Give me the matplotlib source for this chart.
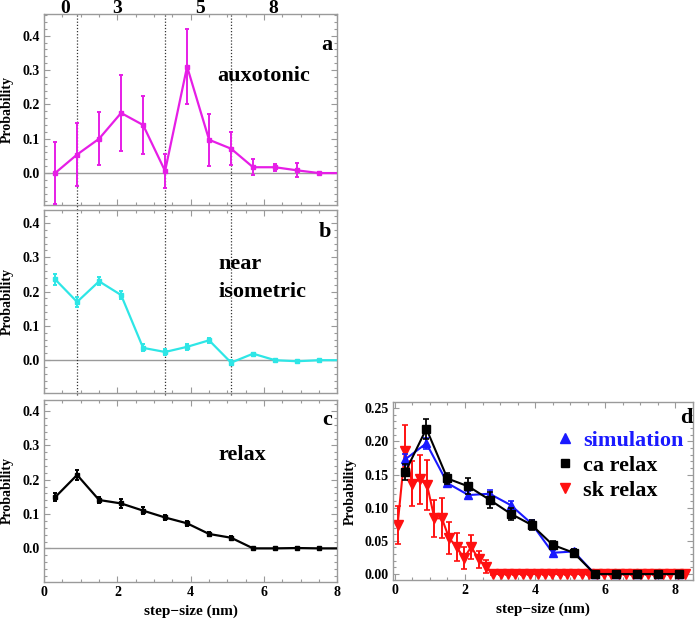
import matplotlib
matplotlib.use('Agg')
import matplotlib.pyplot as plt
from matplotlib.lines import Line2D
from matplotlib.ticker import MultipleLocator, FormatStrFormatter
import matplotlib.transforms as mtransforms

plt.rcParams['font.family'] = ['Liberation Serif', 'DejaVu Serif']
plt.rcParams['font.weight'] = 'bold'
plt.rcParams['axes.labelweight'] = 'bold'

# paneles a, b, c: centros de paso (nm)
paso = [0.3, 0.9, 1.5, 2.1, 2.7, 3.3, 3.9, 4.5, 5.1, 5.7, 6.3, 6.9, 7.5, 8.1]

prob_aux = [0.0, 0.054, 0.100, 0.175, 0.140, 0.006, 0.310, 0.097, 0.071, 0.017, 0.017, 0.008, 0.0, 0.0]
err_aux = [0.091, 0.091, 0.077, 0.111, 0.085, 0.050, 0.109, 0.076, 0.048, 0.023, 0.010, 0.020, 0.003, 0.0]

prob_iso = [0.236, 0.170, 0.230, 0.190, 0.036, 0.024, 0.039, 0.058, -0.007, 0.019, 0.0, -0.003, 0.0, 0.0]
err_iso = [0.016, 0.015, 0.012, 0.012, 0.010, 0.008, 0.008, 0.007, 0.008, 0.003, 0.002, 0.002, 0.002, 0.0]

prob_rel = [0.149, 0.214, 0.141, 0.131, 0.110, 0.090, 0.073, 0.042, 0.031, 0.0, 0.0, 0.001, 0.0, 0.0]
err_rel = [0.012, 0.015, 0.010, 0.012, 0.010, 0.008, 0.008, 0.006, 0.006, 0.002, 0.002, 0.002, 0.002, 0.0]

# panel d
prob_sim = [0.173, 0.197, 0.137, 0.119, 0.121, 0.104, 0.076, 0.032, 0.034, 0.0, 0.0, 0.0, 0.0, 0.0]
err_sim = [0.008, 0.008, 0.006, 0.006, 0.006, 0.006, 0.005, 0.004, 0.004, 0.001, 0.001, 0.001, 0.001, 0.001]
prob_ca = [0.154, 0.219, 0.144, 0.132, 0.112, 0.091, 0.074, 0.044, 0.032, 0.0, 0.0, 0.0, 0.0, 0.0]
err_ca = [0.012, 0.015, 0.009, 0.012, 0.012, 0.009, 0.008, 0.006, 0.005, 0.001, 0.001, 0.003, 0.001, 0.001]

paso_sk = [0.08, 0.29, 0.50, 0.71, 0.92, 1.13, 1.34, 1.55, 1.76, 1.97,
           2.18, 2.39, 2.60, 2.81, 3.02, 3.23, 3.44, 3.65, 3.86, 4.07,
           4.28, 4.49, 4.70, 4.91, 5.12, 5.33, 5.54, 5.75, 5.96, 6.17,
           6.38, 6.59, 6.80, 7.01, 7.22, 7.43, 7.64, 7.85, 8.06, 8.27]
prob_sk = [0.074, 0.186, 0.136, 0.143, 0.134, 0.084, 0.084, 0.054, 0.041, 0.024,
           0.041, 0.022, 0.011, 0.0, 0.0, 0.0, 0.0, 0.0, 0.0, 0.0,
           0.0, 0.0, 0.0, 0.0, 0.0, 0.0, 0.0, 0.0, 0.0, 0.0,
           0.0, 0.0, 0.0, 0.0, 0.0, 0.0, 0.0, 0.0, 0.0, 0.0]
err_sk = [0.028, 0.038, 0.034, 0.037, 0.038, 0.028, 0.030, 0.024, 0.021, 0.016,
          0.018, 0.013, 0.010, 0.002, 0.002, 0.002, 0.002, 0.002, 0.002, 0.002,
          0.002, 0.002, 0.002, 0.002, 0.002, 0.002, 0.002, 0.002, 0.002, 0.002,
          0.002, 0.002, 0.002, 0.002, 0.002, 0.002, 0.002, 0.002, 0.002, 0.002]

marcas_sup = ['0', '3', '5', '8']
pos_marcas_sup = [0.57, 2.0, 4.26, 6.26]
lineas_punteadas = [0.9, 3.3, 5.1]

GRIS = '#9a9a9a'


def estilo(ax, mayor_y, menor_y, fmt):
    for s in ax.spines.values():
        s.set_color(GRIS)
        s.set_linewidth(1)
    ax.xaxis.set_major_locator(MultipleLocator(2))
    ax.xaxis.set_minor_locator(MultipleLocator(0.5))
    ax.yaxis.set_major_locator(MultipleLocator(mayor_y))
    ax.yaxis.set_minor_locator(MultipleLocator(menor_y))
    ax.yaxis.set_major_formatter(FormatStrFormatter(fmt))
    ax.tick_params(which='both', direction='in', top=True, right=True,
                   color=GRIS, labelcolor='black', labelsize=10, width=0.8)
    ax.tick_params(which='major', length=4, pad=3)
    ax.tick_params(which='minor', length=2)


fig = plt.figure(figsize=(7, 6.26), dpi=100)
ax_a = fig.add_axes([0.063, 0.6725, 0.419, 0.305])
ax_b = fig.add_axes([0.063, 0.372, 0.419, 0.292])
ax_c = fig.add_axes([0.063, 0.0703, 0.419, 0.291])
ax_d = fig.add_axes([0.561, 0.0735, 0.429, 0.284])

paneles = [
    (ax_a, prob_aux, err_aux, '#e61ee6', (-0.093, 0.463)),
    (ax_b, prob_iso, err_iso, '#2ee6e6', (-0.096, 0.437)),
    (ax_c, prob_rel, err_rel, 'black', (-0.098, 0.433)),
]
for ax, y, e, col, lim in paneles:
    ax.axhline(0, color=GRIS, lw=1, zorder=1)
    ax.errorbar(paso, y, yerr=e, color=col, lw=1.6, elinewidth=1.4,
                capsize=1.6, capthick=1.4, marker='s', markersize=3, zorder=3)
    ax.set_xlim(0, 8)
    ax.set_ylim(*lim)
    estilo(ax, 0.1, 0.02, '%.1f')
    ax.set_ylabel('Probability', fontsize=10)
    ax.yaxis.set_label_coords(-0.104, 0.5)

ax_a.tick_params(labelbottom=False)
ax_b.tick_params(labelbottom=False)
ax_c.set_xlabel('step\u2212size (nm)', fontsize=11, labelpad=4)

for xv in lineas_punteadas:
    ax_a.axvline(xv, ymin=-0.04, ymax=1, clip_on=False, color='#333333',
                 lw=0.9, ls=(0, (1, 1.5)), zorder=2)
    ax_b.axvline(xv, ymin=-0.01, ymax=1, clip_on=False, color='#333333',
                 lw=0.9, ls=(0, (1, 1.5)), zorder=2)

trans = mtransforms.blended_transform_factory(ax_a.transData, ax_a.transAxes)
for t, xv in zip(marcas_sup, pos_marcas_sup):
    ax_a.text(xv, 1.006, t, transform=trans, ha='center', va='baseline',
              fontsize=14)

ax_a.text(7.87, 0.357, 'a', ha='right', va='baseline', fontsize=16)
ax_a.text(4.72, 0.267, 'auxotonic', ha='left', va='baseline', fontsize=16)
ax_b.text(7.84, 0.358, 'b', ha='right', va='baseline', fontsize=16)
ax_b.text(4.76, 0.267, 'near', ha='left', va='baseline', fontsize=16)
ax_b.text(4.76, 0.185, 'isometric', ha='left', va='baseline', fontsize=16)
ax_c.text(7.86, 0.36, 'c', ha='right', va='baseline', fontsize=16)
ax_c.text(4.76, 0.258, 'relax', ha='left', va='baseline', fontsize=16)

# panel d
ax_d.errorbar(paso_sk, prob_sk, yerr=err_sk, color='#ff1010', lw=1.5,
              elinewidth=1.4, capsize=2, capthick=1.2, marker='v',
              markersize=6.5, zorder=2)
ax_d.errorbar(paso, prob_sim, yerr=err_sim, color='#1a1aff', lw=1.5,
              elinewidth=1.3, capsize=2, capthick=1.2, marker='^',
              markersize=6, zorder=3)
ax_d.errorbar(paso, prob_ca, yerr=err_ca, color='black', lw=1.5,
              elinewidth=1.3, capsize=2, capthick=1.2, marker='s',
              markersize=5.5, zorder=4)
ax_d.set_xlim(-0.06, 8.5)
ax_d.set_ylim(-0.009, 0.259)
estilo(ax_d, 0.05, 0.01, '%.2f')
ax_d.set_ylabel('Probability', fontsize=10)
ax_d.yaxis.set_label_coords(-0.118, 0.5)
ax_d.set_xlabel('step\u2212size (nm)', fontsize=11, labelpad=4)
ax_d.text(0.998, 0.227, 'd', transform=mtransforms.blended_transform_factory(
    ax_d.transAxes, ax_d.transData), ha='right', va='baseline', fontsize=16)

manejadores = [
    Line2D([], [], marker='^', color='#1a1aff', ls='none', markersize=7),
    Line2D([], [], marker='s', color='black', ls='none', markersize=6),
    Line2D([], [], marker='v', color='#ff1010', ls='none', markersize=7),
]
ax_d.legend(manejadores, ['simulation', 'ca relax', 'sk relax'],
            loc='upper left', bbox_to_anchor=(0.537, 0.84), frameon=False,
            borderaxespad=0, borderpad=0, handlelength=1.0,
            handletextpad=0.3, labelspacing=0.2,
            labelcolor=['#1a1aff', 'black', 'black'],
            prop={'family': 'Liberation Serif', 'weight': 'bold', 'size': 16})

fig.savefig('out.png', dpi=100)
